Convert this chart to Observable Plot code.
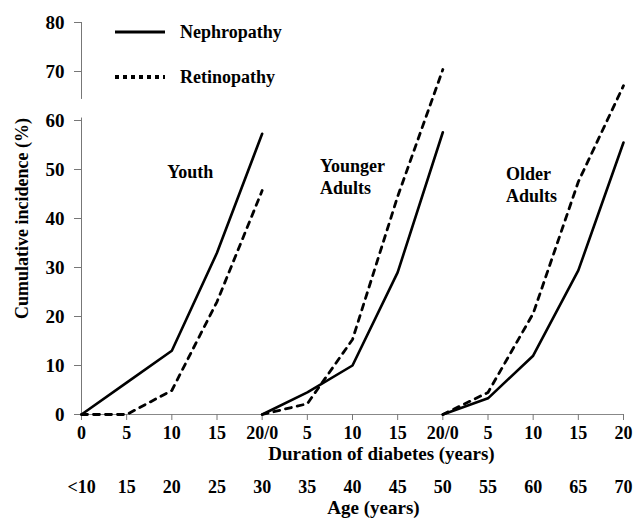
<!DOCTYPE html>
<html><head><meta charset="utf-8">
<script src="https://cdn.jsdelivr.net/npm/d3@7"></script>
<script src="https://cdn.jsdelivr.net/npm/@observablehq/plot@0.6"></script>
<style>
body{margin:0;background:#fff;}
#wrap{position:relative;width:637px;height:523px;}
#legend{position:absolute;left:0;top:0;pointer-events:none;}
</style></head><body><div id="wrap"></div>
<script>
// ---- data ----
const groups = ["Youth", "Younger Adults", "Older Adults"];
const groupLabels = ["Youth", "Younger\nAdults", "Older\nAdults"];
const series = ["Nephropathy", "Retinopathy"];
const durations = [0, 5, 10, 15, 20];
const nephYouth = [0, 6.5, 13, 33, 57.3];
const retYouth = [0, 0, 4.9, 23, 45.7];
const nephYounger = [0, 4.5, 10, 29, 57.6];
const retYounger = [0, 2.2, 15.3, 44.5, 70.4];
const nephOlder = [0, 3.3, 12, 29.4, 55.5];
const retOlder = [0, 4.5, 20.6, 47.5, 67.1];
const durationTicks = ["0","5","10","15","20/0","5","10","15","20/0","5","10","15","20"];
const ageTicks = ["<10","15","20","25","30","35","40","45","50","55","60","65","70"];
const yTicks = [0,10,20,30,40,50,60,70,80];

// ---- build table ----
const valueTable = [[nephYouth, retYouth],[nephYounger, retYounger],[nephOlder, retOlder]];
const rows = [];
groups.forEach((g, gi) => {
  series.forEach((s, si) => {
    durations.forEach((d, di) => {
      rows.push({group: g, series: s, pos: gi * 20 + d, value: valueTable[gi][si][di]});
    });
  });
});
const xTickPos = durationTicks.map((_, i) => i * 5);

// annotation placement (layout)
const labelPlacement = [
  {x: 9.5, y: 49.7},
  {x: 26.4, y: 48.7},
  {x: 47.0, y: 47.0}
];
const labelRows = groupLabels.map((t, i) => ({text: t, ...labelPlacement[i]}));
const axisSegments = [{from: 0, to: 60.5}, {from: 64.3, to: 80}];

const FONT = "Liberation Serif";

const plot = Plot.plot({
  width: 637, height: 523,
  marginLeft: 81, marginRight: 14, marginTop: 22, marginBottom: 109,
  x: {domain: [0, 60], axis: null},
  y: {domain: [0, 80], axis: null},
  style: {fontFamily: FONT, fontWeight: "bold", fontSize: "18px", color: "#000", background: "#fff"},
  marks: [
    Plot.ruleX(axisSegments, {x: () => 0, y1: "from", y2: "to", stroke: "#777", strokeWidth: 1}),
    Plot.ruleY([0], {stroke: "#888", strokeWidth: 1}),
    Plot.axisY({ticks: yTicks, tickSize: 7, tickPadding: 10, label: null, fontSize: 19, stroke: "#777", fill: "#000"}),
    Plot.axisX({ticks: xTickPos, tickFormat: d => durationTicks[Math.round(d / 5)], tickSize: 6, tickPadding: 6, label: null, fontSize: 18, stroke: "#777", fill: "#000"}),
    Plot.axisX({ticks: xTickPos, tickFormat: d => ageTicks[Math.round(d / 5)], tickSize: 0, tickPadding: 66, label: null, fontSize: 18, fill: "#000"}),
    Plot.line(rows.filter(r => r.series === "Nephropathy"), {x: "pos", y: "value", z: "group", stroke: "#000", strokeWidth: 2.6}),
    Plot.line(rows.filter(r => r.series === "Retinopathy"), {x: "pos", y: "value", z: "group", stroke: "#000", strokeWidth: 2.8, strokeDasharray: "6,6"}),
    Plot.text(labelRows, {x: "x", y: "y", text: "text", textAnchor: "start", fontSize: 18, lineHeight: 1.2, fill: "#000"}),
    Plot.text(["Duration of diabetes (years)"], {frameAnchor: "bottom", textAnchor: "middle", dx: 29, dy: 45, fontSize: 19, fill: "#000"}),
    Plot.text(["Age (years)"], {frameAnchor: "bottom", textAnchor: "middle", dx: 21, dy: 99, fontSize: 19, fill: "#000"}),
    Plot.text(["Cumulative incidence (%)"], {frameAnchor: "left", textAnchor: "middle", dx: -59, dy: 0, rotate: -90, fontSize: 18, fill: "#000"})
  ]
});

const wrap = document.getElementById("wrap");
wrap.appendChild(plot);

// legend overlay
const legendItems = [
  {name: series[0], dash: null, width: 3},
  {name: series[1], dash: "4,4", width: 4}
];
const legendRowY = [32, 77];
const lg = d3.create("svg").attr("id", "legend").attr("width", 637).attr("height", 110);
legendItems.forEach((it, i) => {
  const y = legendRowY[i];
  lg.append("line").attr("x1", 115).attr("x2", 165).attr("y1", y).attr("y2", y)
    .attr("stroke", "#000").attr("stroke-width", it.width).attr("stroke-dasharray", it.dash);
  lg.append("text").attr("x", 180).attr("y", y).attr("dy", "0.32em")
    .attr("font-family", FONT).attr("font-weight", "bold").attr("font-size", 18)
    .attr("fill", "#000").text(it.name);
});
wrap.appendChild(lg.node());
</script></body></html>
